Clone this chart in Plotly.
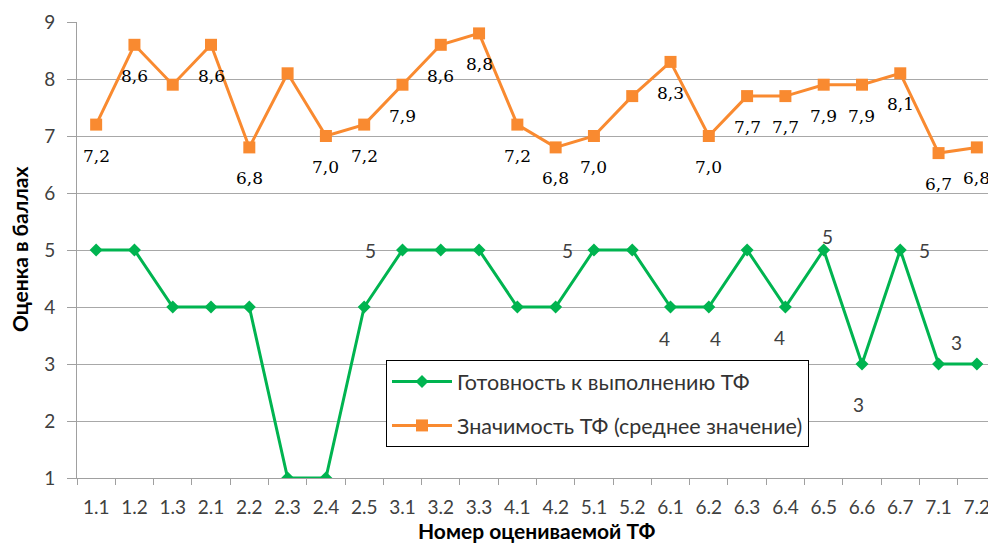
import plotly.graph_objects as go

categories = ["1.1", "1.2", "1.3", "2.1", "2.2", "2.3", "2.4", "2.5", "3.1", "3.2", "3.3",
              "4.1", "4.2", "5.1", "5.2", "6.1", "6.2", "6.3", "6.4", "6.5", "6.6", "6.7",
              "7.1", "7.2"]
readiness = [5, 5, 4, 4, 4, 1, 1, 4, 5, 5, 5, 4, 4, 5, 5, 4, 4, 5, 4, 5, 3, 5, 3, 3]
importance = [7.2, 8.6, 7.9, 8.6, 6.8, 8.1, 7.0, 7.2, 7.9, 8.6, 8.8, 7.2, 6.8, 7.0, 7.7,
              8.3, 7.0, 7.7, 7.7, 7.9, 7.9, 8.1, 6.7, 6.8]
yticks = [1, 2, 3, 4, 5, 6, 7, 8, 9]

# which points carry a value label
importance_labelled = ["1.1", "1.2", "2.1", "2.2", "2.4", "2.5", "3.1", "3.2", "3.3", "4.1",
                       "4.2", "5.1", "6.1", "6.2", "6.3", "6.4", "6.5", "6.6", "6.7", "7.1", "7.2"]
readiness_labelled = ["3.1", "5.1", "6.1", "6.2", "6.4", "6.5", "6.6", "6.7", "7.2"]
# label offsets (pixels) for the readiness labels
readiness_offsets = {"3.1": (-32, 0), "5.1": (-26, 0), "6.1": (-6, -31), "6.2": (7, -31),
                     "6.4": (-6, -30), "6.5": (4, 14), "6.6": (-3, -40), "6.7": (24, 0),
                     "7.2": (-20, 22)}

GREEN = "#00B450"
ORANGE = "#F98A30"
SANS = "Lato"

# the page body has an 8px margin: size the figure so it ends at the window edge
W, H = 996 - 8, 548 - 8

fig = go.Figure()
fig.add_trace(go.Scatter(
    x=categories, y=readiness, mode="lines+markers",
    name="Готовность к выполнению ТФ", legendgroup="a",
    line=dict(color=GREEN, width=3),
    marker=dict(symbol="diamond", size=10, color=GREEN),
))
fig.add_trace(go.Scatter(
    x=categories, y=importance, mode="lines+markers",
    name="Значимость ТФ (среднее значение)", legendgroup="b",
    line=dict(color=ORANGE, width=3),
    marker=dict(symbol="square", size=12, color=ORANGE),
))

annotations = []
for i, (c, v) in enumerate(zip(categories, importance)):
    if c in importance_labelled:
        annotations.append(dict(
            x=i, y=v, text=f"{v:.1f}".replace(".", ","), showarrow=False,
            yshift=-31, font=dict(family="DejaVu Serif", size=17, color="#000000")))
for i, (c, v) in enumerate(zip(categories, readiness)):
    if c in readiness_labelled:
        dx, dy = readiness_offsets[c]
        annotations.append(dict(
            x=i, y=v, text=str(v), showarrow=False, xshift=dx, yshift=dy,
            font=dict(family=SANS, size=19, color="#404040")))

# axis titles
annotations.append(dict(
    xref="paper", yref="paper", x=0.5, y=0, yshift=-52, yanchor="middle", xanchor="center",
    showarrow=False,
    text="<b>Номер оцениваемой ТФ</b>", font=dict(family=SANS, size=21, color="#000000")))
annotations.append(dict(
    xref="paper", yref="paper", x=0, y=0.5, xshift=-58, xanchor="center", yanchor="middle",
    showarrow=False, textangle=-90,
    text="<b>Оценка в баллах</b>", font=dict(family=SANS, size=21, color="#000000")))

fig.update_layout(
    width=W, height=H,
    margin=dict(l=69, r=0, t=14, b=70),
    paper_bgcolor="white", plot_bgcolor="white",
    font=dict(family=SANS, size=19, color="#404040"),
    showlegend=True,
    legend=dict(
        x=(386 - 77) / 919, y=(478 - 360) / 456, xanchor="left", yanchor="top",
        bgcolor="white", bordercolor="#000000", borderwidth=1,
        font=dict(family=SANS, size=21.5, color="#333333"),
        traceorder="grouped", tracegroupgap=13, itemwidth=60,
    ),
    annotations=annotations,
    xaxis=dict(
        type="category", range=[-0.5, len(categories) - 0.5], automargin=False,
        showgrid=False, showline=True, linecolor="#A0A0A0", linewidth=1,
        ticks="outside", tickson="boundaries", ticklen=6, tickcolor="#A0A0A0",
        ticklabelstandoff=12,
        tickfont=dict(family=SANS, size=19, color="#404040"),
    ),
    yaxis=dict(
        range=[1, 9], tickvals=yticks, showgrid=True, gridcolor="#A8A8A8", gridwidth=1,
        showline=True, linecolor="#A0A0A0", linewidth=1, zeroline=False, automargin=False,
        ticks="outside", ticklen=9, tickcolor="#A0A0A0", ticklabelstandoff=8,
        tickfont=dict(family=SANS, size=19, color="#404040"),
    ),
)

fig.write_html("out.html")
